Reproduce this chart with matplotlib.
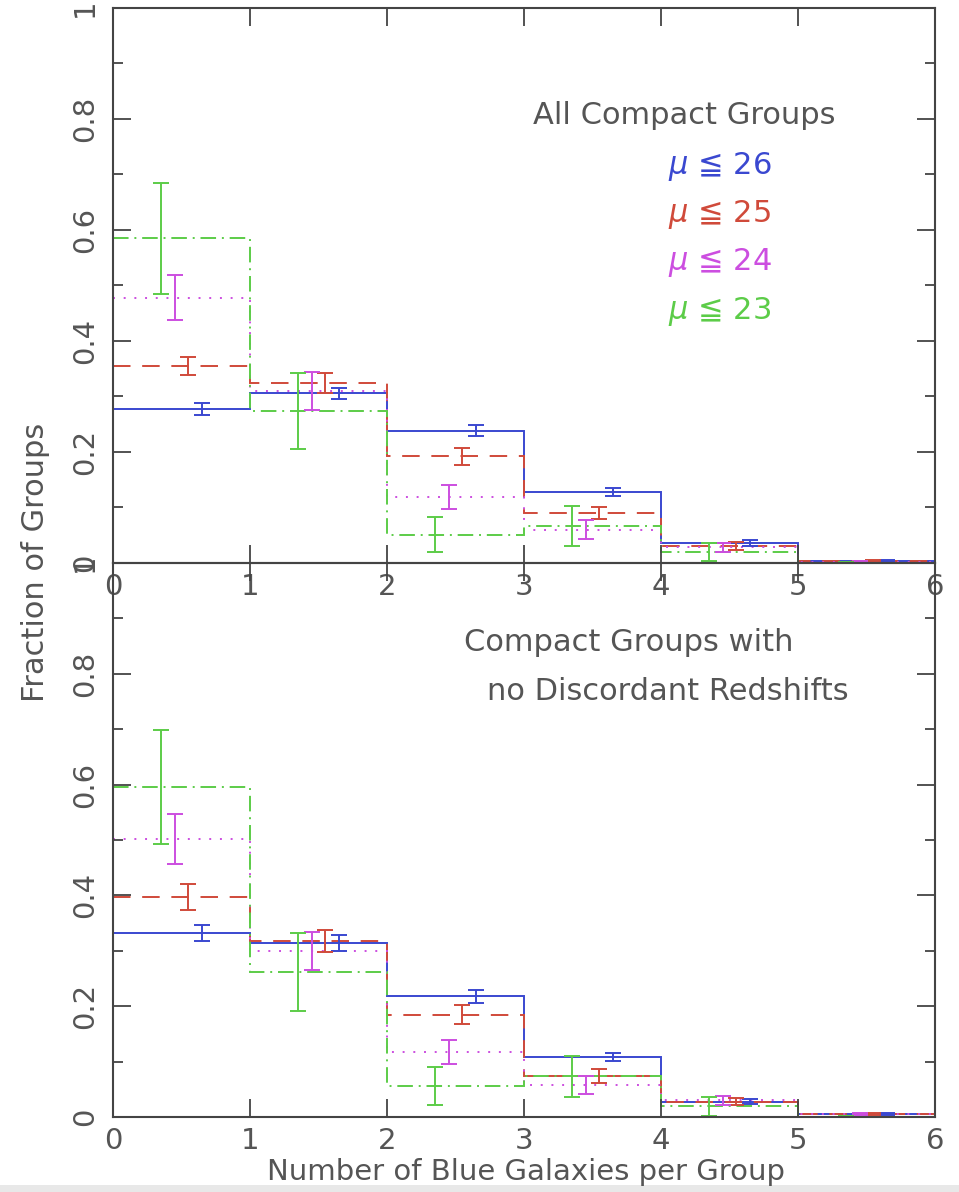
import matplotlib.pyplot as plt
import numpy as np
from matplotlib.patches import Rectangle

# Data
edges = [0, 1, 2, 3, 4, 5, 6]
labels = ['26', '25', '24', '23']
colors = ['#3a48d0', '#d04a3a', '#cc4ee0', '#5ccc48']
styles = ['-', (0, (9, 6)), (0, (1, 4.5)), (0, (8, 3, 1, 3))]
offsets = [0.65, 0.55, 0.45, 0.35]

# top panel: all compact groups
top_vals = [
    [0.277, 0.306, 0.238, 0.128, 0.036, 0.003],   # mu <= 26
    [0.355, 0.324, 0.192, 0.090, 0.030, 0.003],   # mu <= 25
    [0.478, 0.310, 0.119, 0.060, 0.028, 0.002],   # mu <= 24
    [0.585, 0.274, 0.051, 0.067, 0.020, 0.000],   # mu <= 23
]
top_errs = [
    [0.011, 0.010, 0.010, 0.007, 0.005, 0.002],
    [0.017, 0.018, 0.016, 0.011, 0.007, 0.002],
    [0.040, 0.035, 0.022, 0.017, 0.008, 0.002],
    [0.100, 0.069, 0.032, 0.036, 0.016, 0.001],
]

# bottom panel: no discordant redshifts
bot_vals = [
    [0.332, 0.314, 0.218, 0.109, 0.028, 0.005],
    [0.397, 0.318, 0.185, 0.074, 0.028, 0.005],
    [0.502, 0.300, 0.117, 0.058, 0.030, 0.005],
    [0.595, 0.262, 0.056, 0.074, 0.019, 0.000],
]
bot_errs = [
    [0.014, 0.014, 0.012, 0.007, 0.004, 0.002],
    [0.024, 0.020, 0.017, 0.012, 0.006, 0.002],
    [0.045, 0.034, 0.022, 0.016, 0.008, 0.002],
    [0.103, 0.071, 0.034, 0.037, 0.018, 0.001],
]

txt = '#555555'
axc = '#444444'
fs = 20
afs = 22  # annotation text

fig = plt.figure(figsize=(9.59, 11.92), dpi=100)
ax1 = fig.add_axes([0.1178, 0.5277, 0.8571, 0.4656])
ax2 = fig.add_axes([0.1178, 0.0629, 0.8571, 0.4648])
ax2.patch.set_alpha(0)


def draw(ax, vals, errs):
    for i in range(4):
        ax.stairs(vals[i], edges, baseline=None, color=colors[i],
                  linestyle=styles[i], linewidth=1.4)
        x = np.array(edges[:-1]) + offsets[i]
        ax.errorbar(x, vals[i], yerr=errs[i], fmt='none', ecolor=colors[i],
                    elinewidth=1.4, capsize=6, capthick=1.4)
    ax.set_xlim(0, 6)
    ax.set_ylim(0, 1)
    ax.set_xticks(range(7))
    ax.set_yticks([0, 0.2, 0.4, 0.6, 0.8, 1])
    ax.set_yticks(np.arange(0.1, 1, 0.2), minor=True)
    ax.set_yticklabels(['0', '0.2', '0.4', '0.6', '0.8', '1'],
                       rotation=90, va='center')
    ax.tick_params(which='both', direction='in', top=True, right=True,
                   colors=axc, labelcolor=txt, labelsize=fs + 1, pad=10)
    ax.tick_params(axis='x', pad=7)
    ax.tick_params(which='major', length=13, width=1.3)
    ax.tick_params(which='minor', length=7, width=1.3)
    for s in ax.spines.values():
        s.set_color(axc)
        s.set_linewidth(1.5)


draw(ax1, top_vals, top_errs)
draw(ax2, bot_vals, bot_errs)

ax1.text(0.695, 0.807, 'All Compact Groups', transform=ax1.transAxes,
         fontsize=afs, color=txt, ha='center', va='center')
for i, lab in enumerate(labels):
    ax1.text(0.738, 0.715 - i * 0.087, '$\\mu$ \u2266 ' + lab,
             transform=ax1.transAxes, fontsize=afs, color=colors[i],
             ha='center', va='center')

ax2.text(0.628, 0.857, 'Compact Groups with', transform=ax2.transAxes,
         fontsize=afs, color=txt, ha='center', va='center')
ax2.text(0.675, 0.768, 'no Discordant Redshifts', transform=ax2.transAxes,
         fontsize=afs, color=txt, ha='center', va='center')

fig.text(0.548, 0.0165, 'Number of Blue Galaxies per Group', fontsize=21,
         color=txt, ha='center', va='center')
fig.text(0.037, 0.528, 'Fraction of Groups', rotation=90, fontsize=afs,
         color=txt, ha='center', va='center')

fig.patches.append(Rectangle((0, 0), 1, 0.006, transform=fig.transFigure,
                             facecolor='#e8e8e8', edgecolor='none'))

fig.savefig('out.png', dpi=100)
